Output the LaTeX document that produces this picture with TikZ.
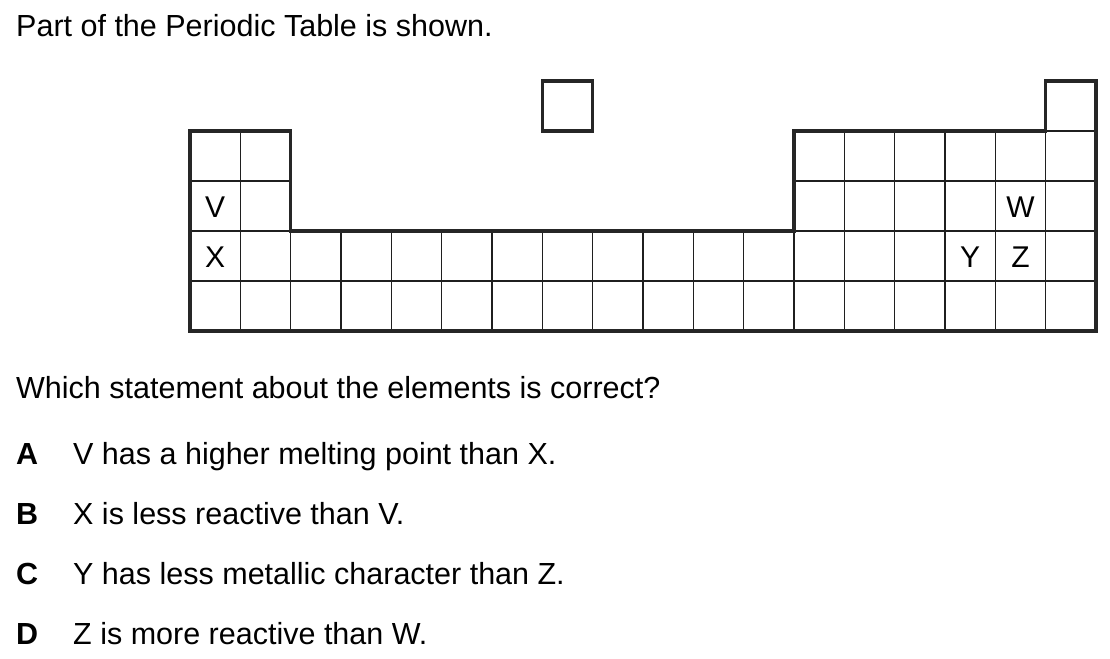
\documentclass[tikz,border=0pt]{standalone}
\usepackage{fontspec}
\setmainfont{Liberation Sans}
\begin{document}
\begin{tikzpicture}[x=1pt,y=-1pt,
  gridline/.style={line width=1.1pt,draw=black!88},
  outline/.style={line width=3.6pt,draw=black!85,line join=miter},
  txt/.style={font=\fontsize{30.5}{36}\selectfont,inner sep=0pt,anchor=base west},
  opt/.style={font=\fontsize{30.5}{36}\selectfont\bfseries,inner sep=0pt,anchor=base west},
  cell/.style={font=\fontsize{30}{36}\selectfont,inner sep=0pt,anchor=center}]
\useasboundingbox[fill=white] (0,0) rectangle (1110,658);
\def\cw{50.333}
% thin grid
\foreach \c in {0,1,12,13,14,15,16,17}
  \foreach \r in {1,2,3,4}
    \draw[gridline] ({190+\c*\cw},{81+\r*50}) rectangle ++(\cw,50);
\foreach \c in {2,...,11}
  \foreach \r in {3,4}
    \draw[gridline] ({190+\c*\cw},{81+\r*50}) rectangle ++(\cw,50);
\draw[gridline] ({190+17*\cw},81) rectangle ++(\cw,50);
% thick outline
\draw[outline] (190,131) -- ({190+2*\cw},131) -- ({190+2*\cw},231)
  -- ({190+12*\cw},231) -- ({190+12*\cw},131) -- ({190+17*\cw},131)
  -- ({190+17*\cw},81) -- ({190+18*\cw},81) -- ({190+18*\cw},331)
  -- (190,331) -- cycle;
% floating square
\draw[outline] ({190+7*\cw},81) rectangle ++(\cw,50);
% cell labels
\node[cell] (V) at ({190+0.5*\cw},207) {V};
\node[cell] (X) at ({190+0.5*\cw},257) {X};
\node[cell] (W) at ({190+16.5*\cw},207) {W};
\node[cell] (Z) at ({190+16.5*\cw},257) {Z};
\node[cell] (Y) at ({190+15.5*\cw},257) {Y};
% texts
\node[txt] (title) at (16,37) {Part of the Periodic Table is shown.};
\node[txt] (q) at (16,398) {Which statement about the elements is correct?};
\node[opt] (A) at (16,464) {A};
\node[txt] (tA) at (73,464) {V has a higher melting point than X.};
\node[opt] (B) at (16,524) {B};
\node[txt] (tB) at (73,524) {X is less reactive than V.};
\node[opt] (C) at (16,584) {C};
\node[txt] (tC) at (73,584) {Y has less metallic character than Z.};
\node[opt] (D) at (16,644) {D};
\node[txt] (tD) at (73,644) {Z is more reactive than W.};
\end{tikzpicture}
\end{document}
